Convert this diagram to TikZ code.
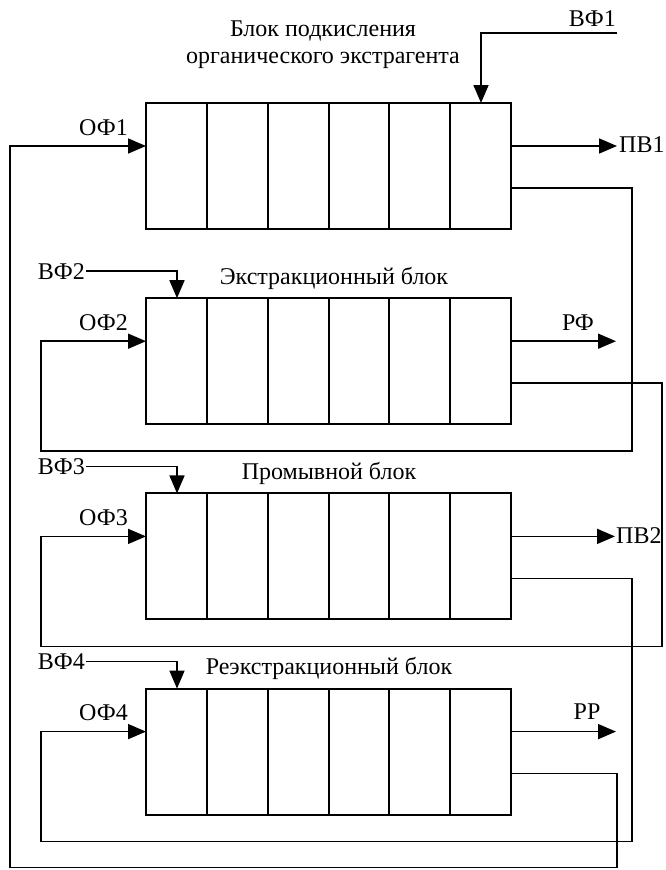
\documentclass[tikz,border=0pt]{standalone}
\usepackage{fontspec}
\setmainfont{Liberation Serif}
\newfontfamily\tnrfont{Liberation Serif}
\usetikzlibrary{arrows.meta,calc}
\begin{document}
\begin{tikzpicture}[x=1pt,y=-1pt,
  blk/.style={draw, line width=2pt, minimum width=365pt, minimum height=126pt, inner sep=0pt, outer sep=0pt},
  cellline/.style={line width=2pt},
  flow/.style={line width=1.7pt},
  arr/.style={flow, -{Triangle[length=18pt,width=15pt]}},
  lbl/.style={font=\tnrfont\fontsize{24}{27}\selectfont, inner sep=0pt},
]
\useasboundingbox (0,0) rectangle (666,870);

% blocks with six cells
\foreach \i/\t in {1/103,2/298.2,3/493.4,4/688.6} {
  \node[blk, anchor=north west] (b\i) at (146,\t) {};
  \foreach \k in {1,...,5}
    \draw[cellline] ($(b\i.north west)!\k/6!(b\i.north east)$) -- ($(b\i.south west)!\k/6!(b\i.south east)$);
}

% titles
\node[lbl, align=center, anchor=base] (t1) at (323,63) {Блок подкисления\\органического экстрагента};
\node[lbl, anchor=base] (t2) at (334,284.2) {Экстракционный блок};
\node[lbl, anchor=base] (t3) at (329,479.4) {Промывной блок};
\node[lbl, anchor=base] (t4) at (329,674.6) {Реэкстракционный блок};

% water phase inputs
\node[lbl, anchor=base east] (vf1) at (616,26) {ВФ1};
\coordinate (vf1s) at (617,33);
\draw[arr] (vf1s) -| ([xshift=335pt]b1.north west);
\node[lbl, anchor=base east] (vf2) at (85,279.2) {ВФ2};
\node[lbl, anchor=base east] (vf3) at (85,474.4) {ВФ3};
\node[lbl, anchor=base east] (vf4) at (85,669.6) {ВФ4};
\coordinate (vf2s) at (86,271.2);
\coordinate (vf3s) at (86,466.4);
\coordinate (vf4s) at (86,661.6);
\draw[arr] (vf2s) -| ([xshift=31pt]b2.north west);
\draw[arr] (vf3s) -| ([xshift=31pt]b3.north west);
\draw[arr] (vf4s) -| ([xshift=31pt]b4.north west);

% organic phase labels
\node[lbl, anchor=base east] (of1) at (128,135) {ОФ1};
\node[lbl, anchor=base east] (of2) at (128,330.2) {ОФ2};
\node[lbl, anchor=base east] (of3) at (128,525.4) {ОФ3};
\node[lbl, anchor=base east] (of4) at (128,720.6) {ОФ4};

% outputs
\coordinate (pv1e) at (617,146);
\coordinate (rfe) at (616,341.2);
\coordinate (pv2e) at (615,536.4);
\coordinate (rre) at (616,731.6);
\draw[arr] ([yshift=-43pt]b1.north east) -- (pv1e);
\draw[arr] ([yshift=-43pt]b2.north east) -- (rfe);
\draw[arr] ([yshift=-43pt]b3.north east) -- (pv2e);
\draw[arr] ([yshift=-43pt]b4.north east) -- (rre);
\node[lbl, anchor=base west] (pv1) at (619,152) {ПВ1};
\node[lbl, anchor=base] (rf) at (578,330.2) {РФ};
\node[lbl, anchor=base west] (pv2) at (616,543) {ПВ2};
\node[lbl, anchor=base] (rr) at (587,719) {РР};

% organic phase loops
\draw[arr] ([yshift=-85pt]b1.north east) -| (632,451.2) -| (41,341.2) -- ([yshift=-43pt]b2.north west);
\draw[arr] ([yshift=-85pt]b2.north east) -| (662,646.4) -| (41,536.4) -- ([yshift=-43pt]b3.north west);
\draw[arr] ([yshift=-85pt]b3.north east) -| (632,841.6) -| (41,731.6) -- ([yshift=-43pt]b4.north west);
\draw[arr] ([yshift=-85pt]b4.north east) -| (617,867.5) -| (10,146) -- ([yshift=-43pt]b1.north west);
\end{tikzpicture}
\end{document}
